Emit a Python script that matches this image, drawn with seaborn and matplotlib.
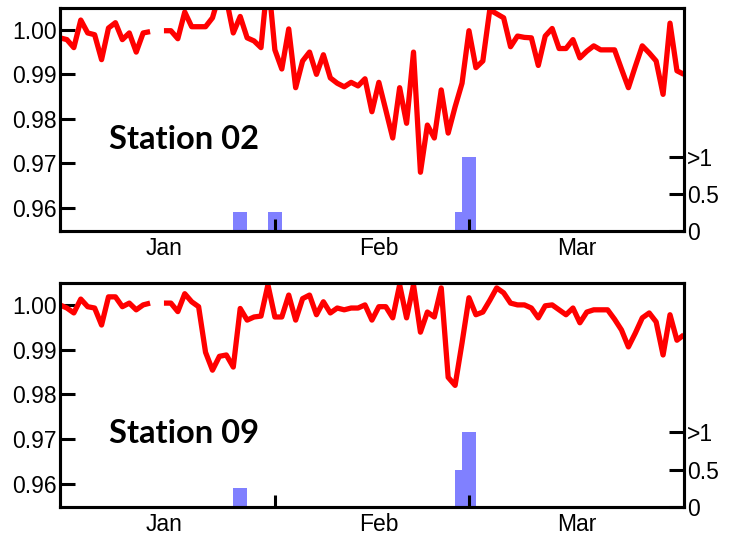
import numpy as np
import pandas as pd
import matplotlib
matplotlib.use("Agg")
import matplotlib.pyplot as plt
import seaborn as sns

# Daily values, Jan 1 (day 0) to Apr 1 (day 90); NaN marks a missing day
days = np.arange(91)
station02 = [
    0.9982, 0.9978, 0.9960, 1.0022, 0.9993, 0.9989, 0.9933, 1.0004, 1.0016, 0.9978,
    0.9993, 0.9950, 0.9993, 0.9996, np.nan, 0.9998, 0.9998, 0.9980, 1.0040, 1.0007,
    1.0007, 1.0007, 1.0027, 1.0080, 1.0070, 0.9993, 1.0030, 0.9982, 0.9975, 0.9960,
    1.0120, 0.9955, 0.9912, 1.0002, 0.9870, 0.9930, 0.9950, 0.9900, 0.9944, 0.9892,
    0.9880, 0.9872, 0.9882, 0.9874, 0.9890, 0.9816, 0.9882, 0.9820, 0.9757, 0.9870,
    0.9790, 0.9950, 0.9680, 0.9786, 0.9757, 0.9865, 0.9768, 0.9827, 0.9880, 0.9998,
    0.9915, 0.9930, 1.0045, 1.0036, 1.0027, 0.9962, 0.9986, 0.9983, 0.9982, 0.9920,
    0.9986, 1.0003, 0.9958, 0.9958, 0.9978, 0.9937, 0.9952, 0.9964, 0.9955, 0.9955,
    0.9955, 0.9912, 0.9870, 0.9918, 0.9964, 0.9948, 0.9930, 0.9855, 1.0015, 0.9908,
    0.9900,
]
station09 = [
    1.0000, 0.9993, 0.9982, 1.0013, 0.9996, 0.9993, 0.9955, 1.0018, 1.0018, 0.9996,
    1.0004, 0.9989, 1.0000, 1.0004, np.nan, 1.0004, 1.0004, 0.9985, 1.0025, 1.0007,
    0.9996, 0.9894, 0.9854, 0.9885, 0.9888, 0.9861, 0.9992, 0.9966, 0.9973, 0.9975,
    1.0045, 0.9973, 0.9973, 1.0022, 0.9966, 1.0014, 1.0022, 0.9978, 1.0007, 0.9982,
    0.9993, 0.9989, 0.9993, 0.9993, 1.0000, 0.9966, 0.9996, 0.9996, 0.9971, 1.0045,
    0.9971, 1.0045, 0.9939, 0.9984, 0.9973, 1.0038, 0.9838, 0.9820, 0.9915, 1.0016,
    0.9978, 0.9984, 1.0010, 1.0038, 1.0027, 1.0004, 1.0000, 1.0000, 0.9993, 0.9971,
    0.9998, 1.0000, 0.9989, 0.9978, 0.9993, 0.9960, 0.9984, 0.9989, 0.9989, 0.9989,
    0.9968, 0.9944, 0.9906, 0.9937, 0.9971, 0.9982, 0.9962, 0.9888, 0.9978, 0.9921,
    0.9933,
]

# Secondary series (right axis, capped at ">1")
rain_days_02 = [25, 26, 30, 31, 57, 58, 59]
rain_02 = [0.25, 0.25, 0.25, 0.25, 0.25, 1.0, 1.0]
rain_days_09 = [25, 26, 57, 58, 59]
rain_09 = [0.25, 0.25, 0.5, 1.0, 1.0]

month_labels = ["Jan", "Feb", "Mar"]
month_centers = [15, 46, 74.5]
month_bounds = [31, 59]

left_ticks = [0.96, 0.97, 0.98, 0.99, 1.00]
right_ticks = [0, 0.5, 1]
right_labels = ["0", "0.5", ">1"]

sns.set_style("white")
plt.rcParams["font.family"] = ["Liberation Sans", "DejaVu Sans"]
plt.rcParams["text.color"] = "black"
plt.rcParams["xtick.color"] = "black"
plt.rcParams["ytick.color"] = "black"
plt.rcParams["axes.labelcolor"] = "black"

fig = plt.figure(figsize=(7.34, 5.38), dpi=100)
ax_top = fig.add_axes([0.0817, 0.5706, 0.850, 0.4145])
ax_bot = fig.add_axes([0.0817, 0.0576, 0.850, 0.4164])

LW = 2.2
FS = 16.5


def draw_panel(ax, values, rdays, rvals, title, title_y):
    df = pd.DataFrame({"day": days, "ratio": values})
    df["segment"] = df["ratio"].isna().cumsum()
    df = df.dropna()
    rain = pd.DataFrame({"day": rdays, "amount": rvals})

    ax2 = ax.twinx()
    sns.histplot(data=rain, x="day", weights="amount", binwidth=1,
                 binrange=(0, 91), color="#8080ff", alpha=1, linewidth=0,
                 ax=ax2)
    sns.lineplot(data=df, x="day", y="ratio", units="segment", estimator=None,
                 color="#ff0000", lw=3.8, solid_joinstyle="round",
                 solid_capstyle="butt", ax=ax)

    # keep the line and its ticks above the bars
    ax.set_zorder(ax2.get_zorder() + 1)
    ax.patch.set_visible(False)

    ax.set_xlim(0, 90)
    ax.set_ylim(0.9548, 1.0049)
    ax2.set_ylim(0, 3.0)

    ax.set_yticks(left_ticks)
    ax.set_yticklabels([f"{t:.2f}" for t in left_ticks])
    ax2.set_yticks(right_ticks)
    ax2.set_yticklabels(right_labels)

    ax.set_xticks(month_centers)
    ax.set_xticklabels(month_labels)
    ax.set_xticks(month_bounds, minor=True)

    ax.set_xlabel("")
    ax.set_ylabel("")
    ax2.set_ylabel("")

    ax.tick_params(axis="y", direction="in", length=10.8, width=LW,
                   labelsize=FS, pad=2.5, left=True, right=False)
    ax.tick_params(axis="x", which="major", length=0, labelsize=FS, pad=4)
    ax.tick_params(axis="x", which="minor", direction="in", length=9,
                   width=LW, bottom=True)
    ax2.tick_params(axis="y", direction="in", length=10.8, width=LW,
                    labelsize=FS, pad=2.5, right=True, left=False)

    for a in (ax, ax2):
        for s in a.spines.values():
            s.set_visible(True)
            s.set_linewidth(LW)
            s.set_color("black")

    ax.text(7.1, title_y, title, fontsize=23.5, fontweight="bold",
            family=["Lato", "DejaVu Sans"], ha="left", va="center")


draw_panel(ax_top, station02, rain_days_02, rain_02, "Station 02", 0.9753)
draw_panel(ax_bot, station09, rain_days_09, rain_09, "Station 09", 0.9712)

fig.savefig("out.png", dpi=100)
